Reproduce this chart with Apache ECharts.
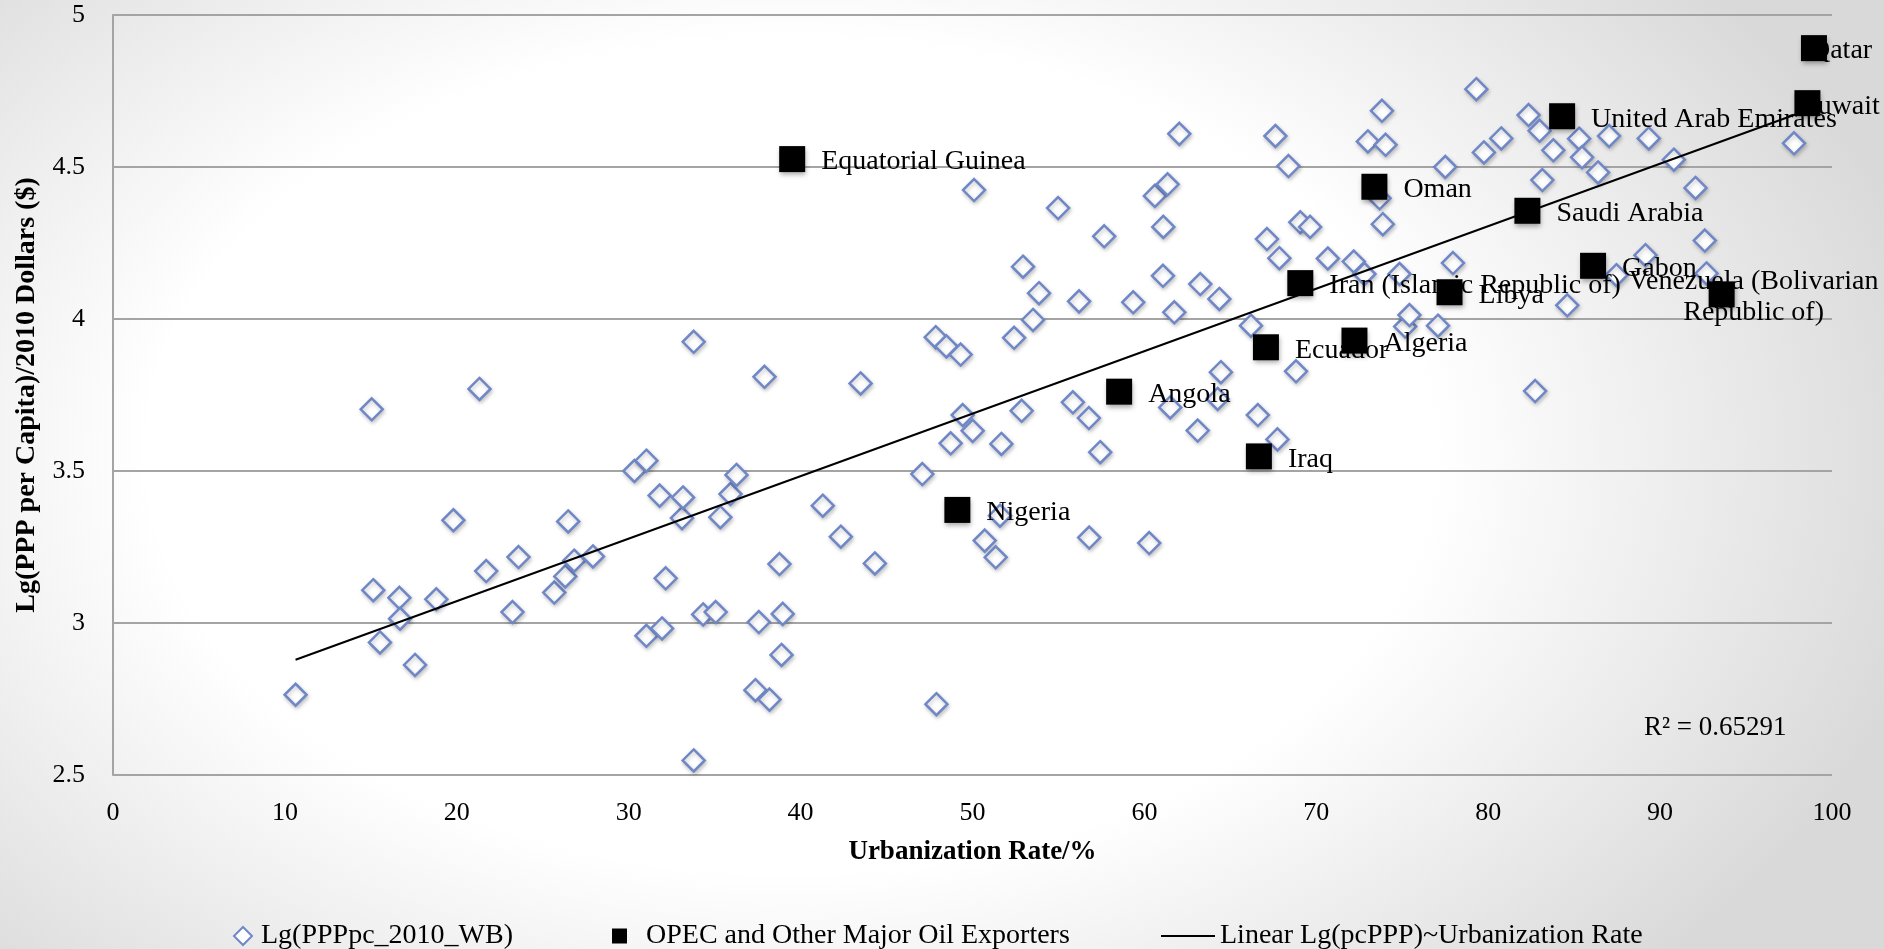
<!DOCTYPE html>
<html>
<head>
<meta charset="utf-8">
<title>Urbanization vs Lg(PPP per Capita)</title>
<script src="https://cdn.jsdelivr.net/npm/echarts@6.0.0/dist/echarts.min.js"></script>
<style>
html, body { margin: 0; padding: 0; }
body {
    width: 1884px; height: 949px; overflow: hidden;
    background: radial-gradient(ellipse 62% 80% at 42% 48%, #ffffff 55%, #d9d9d9 100%);
}
#chart { width: 1884px; height: 949px; }
</style>
</head>
<body>
<div id="chart"></div>
<script>
// all countries: urbanization rate (%) and lg(PPP per capita, 2010 $)
var urbanRate = [
    10.62, 15.05, 15.14, 15.53, 16.66, 16.70, 17.57, 18.81, 19.80, 21.32,
    21.71, 23.24, 23.59, 25.67, 26.31, 26.48, 26.83, 27.92, 30.33, 31.03,
    31.03, 31.80, 31.94, 32.15, 33.10, 33.16, 33.78, 33.78, 34.33, 35.06,
    35.33, 35.92, 36.27, 37.37, 37.57, 37.90, 38.19, 38.77, 38.89, 38.96,
    41.29, 42.34, 43.49, 44.32, 47.08, 47.86, 47.90, 48.48, 48.73, 49.31,
    49.43, 50.01, 50.09, 50.71, 51.35, 51.60, 51.68, 52.42, 52.86, 52.94,
    53.52, 53.87, 54.98, 55.84, 56.20, 56.77, 56.79, 57.43, 57.66, 59.35,
    60.28, 60.61, 61.08, 61.10, 61.35, 61.50, 61.74, 62.03, 63.10, 63.25,
    64.26, 64.36, 64.45, 66.20, 66.60, 67.13, 67.62, 67.74, 67.85, 68.38,
    68.82, 69.07, 69.64, 70.67, 72.18, 72.80, 73.00, 73.68, 73.82, 73.87,
    74.03, 74.84, 75.17, 75.42, 77.08, 77.50, 77.95, 79.31, 79.75, 80.76,
    82.35, 82.73, 82.99, 83.15, 83.79, 84.60, 85.29, 85.46, 86.39, 87.03,
    87.46, 89.15, 89.34, 90.80, 92.06, 92.60, 92.70, 97.79
];
var lgPPP = [
    2.764, 3.703, 3.108, 2.936, 3.083, 3.014, 2.862, 3.078, 3.338, 3.770,
    3.171, 3.036, 3.217, 3.100, 3.153, 3.334, 3.205, 3.219, 3.500, 3.534,
    2.958, 3.419, 2.982, 3.147, 3.345, 3.413, 3.925, 2.548, 3.028, 3.036,
    3.348, 3.424, 3.487, 2.779, 3.003, 3.810, 2.748, 3.194, 2.895, 3.030,
    3.386, 3.284, 3.788, 3.196, 3.490, 3.940, 2.733, 3.910, 3.591, 3.883,
    3.684, 3.632, 4.424, 3.271, 3.216, 3.353, 3.589, 3.938, 3.698, 4.172,
    3.997, 4.085, 4.365, 3.726, 4.058, 3.674, 3.281, 3.562, 4.272, 4.055,
    3.263, 4.405, 4.142, 4.303, 4.443, 3.709, 4.022, 4.609, 3.633, 4.115,
    3.737, 4.066, 3.825, 3.978, 3.684, 4.263, 4.602, 3.604, 4.200, 4.503,
    3.828, 4.318, 4.303, 4.199, 4.189, 4.148, 4.584, 4.397, 4.685, 4.312,
    4.573, 4.148, 3.975, 4.013, 3.978, 4.500, 4.184, 4.756, 4.548, 4.594,
    4.671, 3.763, 4.619, 4.457, 4.555, 4.045, 4.593, 4.532, 4.482, 4.602,
    4.144, 4.210, 4.594, 4.524, 4.431, 4.258, 4.150, 4.578
];

// OPEC and other major oil exporters
var opecNames = [
    'Equatorial Guinea', 'Nigeria', 'Angola', 'Iraq', 'Ecuador',
    'Iran (Islamic Republic of)', 'Algeria', 'Oman', 'Libya', 'Saudi Arabia',
    'United Arab Emirates', 'Gabon', 'Venezuela (Bolivarian\nRepublic of)', 'Kuwait', 'Qatar'
];
var opecUrban = [39.51, 49.12, 58.53, 66.66, 67.07, 69.07, 72.22, 73.38, 77.75, 82.28, 84.30, 86.10, 93.58, 98.57, 98.95];
var opecLgPPP = [4.526, 3.372, 3.761, 3.548, 3.907, 4.118, 3.929, 4.435, 4.088, 4.356, 4.667, 4.175, 4.081, 4.710, 4.891];

// linear trend line end points
var trendX = [10.62, 98.95];
var trendY = [2.879, 4.695];

var FONT = 'Liberation Serif';
var GRID_GRAY = '#a4a4a4';
var DIAMOND_BLUE = '#6f87c6';

// labels that Excel had to move to fit inside the chart
var labelTweaks = {
    'Qatar': { position: 'right', distance: -17 },
    'Kuwait': { position: 'right', distance: -23 },
    'Venezuela (Bolivarian\nRepublic of)': { position: [45, 13], align: 'center', verticalAlign: 'middle', lineHeight: 31 }
};

var chart = echarts.init(document.getElementById('chart'), null, { renderer: 'canvas' });

var diamondData = urbanRate.map(function (x, i) { return [x, lgPPP[i]]; });
var opecData = opecNames.map(function (n, i) { return { name: n, value: [opecUrban[i], opecLgPPP[i]] }; });
var opecLabelData = opecNames.map(function (n, i) {
    var lb = { show: true, position: 'right', distance: 16, offset: [0, 3] };
    if (labelTweaks[n]) { Object.assign(lb, labelTweaks[n]); }
    return { name: n, value: [opecUrban[i], opecLgPPP[i]], label: lb };
});
var trendData = trendX.map(function (x, i) { return [x, trendY[i]]; });

function legendText(padLeft) {
    return { fontFamily: FONT, fontSize: 28, color: '#000', padding: [0, 0, 0, padLeft] };
}

var option = {
    backgroundColor: 'transparent',
    animation: false,
    textStyle: { fontFamily: FONT },
    grid: { left: 113, right: 52, top: 15, bottom: 174, containLabel: false },
    xAxis: {
        type: 'value', min: 0, max: 100, interval: 10,
        name: 'Urbanization Rate/%', nameLocation: 'middle', nameGap: 64,
        nameTextStyle: { fontFamily: FONT, fontSize: 27, fontWeight: 'bold', color: '#000' },
        axisLine: { show: false }, axisTick: { show: false }, splitLine: { show: false },
        axisLabel: { fontFamily: FONT, fontSize: 26, color: '#000', margin: 25 }
    },
    yAxis: {
        type: 'value', min: 2.5, max: 5, interval: 0.5,
        name: 'Lg(PPP per Capita)/2010 Dollars ($)', nameLocation: 'middle', nameGap: 72,
        nameTextStyle: { fontFamily: FONT, fontSize: 28, fontWeight: 'bold', color: '#000' },
        axisLine: { show: true, lineStyle: { color: GRID_GRAY, width: 2 } },
        axisTick: { show: false },
        splitLine: { show: true, lineStyle: { color: GRID_GRAY, width: 2 } },
        axisLabel: { fontFamily: FONT, fontSize: 26, color: '#000', margin: 28 }
    },
    legend: [
        { data: [{ name: 'Lg(PPPpc_2010_WB)', icon: 'diamond' }], left: 228, top: 917,
          itemWidth: 18, itemHeight: 18, textStyle: legendText(4) },
        { data: [{ name: 'OPEC and Other Major Oil Exporters', icon: 'rect' }], left: 607, top: 917,
          itemWidth: 15, itemHeight: 15, textStyle: legendText(14) },
        { data: [{ name: 'Linear Lg(pcPPP)~Urbanization Rate', icon: 'rect' }], left: 1156, top: 917,
          itemWidth: 54, itemHeight: 2, textStyle: legendText(0) }
    ],
    graphic: [{
        type: 'text', x: 1644, y: 728,
        style: { text: 'R² = 0.65291', font: '27px "Liberation Serif"', fill: '#000', verticalAlign: 'middle' }
    }],
    series: [
        {
            name: 'Lg(PPPpc_2010_WB)', type: 'scatter', z: 2,
            symbol: 'diamond', symbolSize: 22,
            itemStyle: {
                color: '#ffffff', borderColor: DIAMOND_BLUE, borderWidth: 2.5, opacity: 1,
                shadowBlur: 4, shadowOffsetX: 1, shadowOffsetY: 2, shadowColor: 'rgba(0,0,0,0.22)'
            },
            data: diamondData
        },
        {
            name: 'Linear Lg(pcPPP)~Urbanization Rate', type: 'line', z: 3,
            showSymbol: false, symbol: 'none',
            lineStyle: { color: '#000', width: 2 },
            itemStyle: { color: '#000' },
            data: trendData
        },
        {
            // labels only, kept under the squares like in the original
            name: 'opecLabels', type: 'scatter', z: 4, silent: true,
            symbol: 'rect', symbolSize: 26,
            itemStyle: { color: 'rgba(0,0,0,0)', opacity: 1 },
            label: { show: true, formatter: '{b}', fontFamily: FONT, fontSize: 28, color: '#000' },
            data: opecLabelData
        },
        {
            name: 'OPEC and Other Major Oil Exporters', type: 'scatter', z: 5,
            symbol: 'rect', symbolSize: 26,
            itemStyle: {
                color: '#000', opacity: 1,
                shadowBlur: 5, shadowOffsetX: 1, shadowOffsetY: 3, shadowColor: 'rgba(0,0,0,0.35)'
            },
            data: opecData
        }
    ]
};

chart.setOption(option);
</script>
</body>
</html>
